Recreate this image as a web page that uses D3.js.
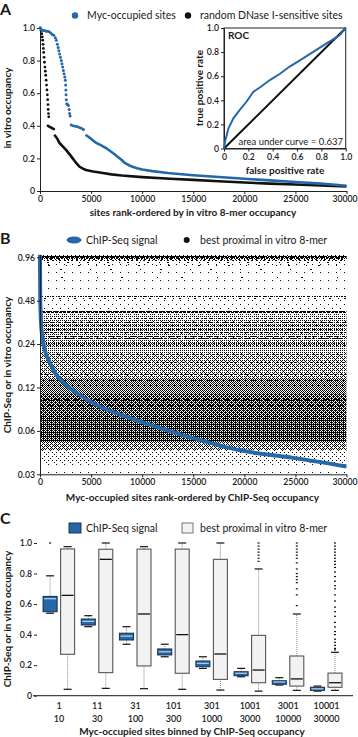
<!DOCTYPE html>
<html>
<head>
<meta charset="utf-8">
<script src="https://cdn.jsdelivr.net/npm/d3@7"></script>
<style>
body { margin: 0; background: #fff; }
svg text { font-family: Lato, "Open Sans", sans-serif; fill: #1a1a1a; }
.tick text { font-size: 8.7px; font-weight: 600; }
.tick line, .domain { stroke: #222; }
.title { font-size: 10px; font-weight: 700; }
.legend { font-size: 10.5px; }
.panel { font-size: 16px; font-weight: 700; }
</style>
</head>
<body>
<div id="chart"></div>
<script>
// ---------- panel A: in vitro occupancy curves ----------
const rankTicks = [0, 5000, 10000, 15000, 20000, 25000, 30000];
const fracTicks = [0, 0.2, 0.4, 0.6, 0.8, 1.0];

// sparse, steep part drawn as single points; tail drawn as a line
const mycDots = [[0,1.0],[150,0.99],[300,0.985],[450,0.985],[600,0.98],[750,0.98],[900,0.977],[1050,0.97],
  [1200,0.96],[1350,0.955],[1500,0.94],[1600,0.925],[1700,0.9],[1780,0.88],[1850,0.86],[1920,0.84],
  [2000,0.82],[2080,0.8],[2150,0.78],[2220,0.76],[2290,0.74],[2350,0.72],[2420,0.7],[2480,0.68],
  [2510,0.65],[2530,0.62],[2550,0.59],[2570,0.56],[2620,0.535],[2700,0.53],[2780,0.525],[2850,0.5],
  [2900,0.475],[2950,0.46],[3050,0.405],[3250,0.4],[3450,0.398],[3650,0.395],[3850,0.39],[4050,0.385],[4250,0.378]];
const mycTail = [[4450,0.345],[4800,0.33],[5200,0.31],[5500,0.295],[6000,0.28],[6500,0.262],[7100,0.235],
  [7600,0.21],[8000,0.19],[8300,0.172],[8800,0.155],[9500,0.14],[10000,0.132],[11000,0.122],[12500,0.11],
  [15000,0.097],[17500,0.086],[20000,0.075],[22500,0.065],[25000,0.055],[27500,0.045],[30000,0.032]];
const dnaseDots = [[30,1.0],[100,0.985],[170,0.965],[220,0.945],[260,0.925],[300,0.9],[330,0.875],[360,0.85],
  [400,0.82],[440,0.79],[480,0.76],[520,0.735],[560,0.71],[600,0.68],[640,0.65],[680,0.62],[720,0.59],
  [750,0.56],[780,0.53],[800,0.5],[830,0.475],[860,0.455],[780,0.4],[900,0.395],[1050,0.39],[1200,0.385],[1350,0.38]];
const dnaseTail = [[1400,0.345],[1700,0.32],[1900,0.295],[2200,0.275],[2550,0.252],[2900,0.225],[3200,0.2],
  [3500,0.175],[3850,0.15],[4200,0.137],[4500,0.129],[5200,0.12],[6150,0.11],[7000,0.102],[8000,0.095],
  [10000,0.085],[12750,0.075],[15000,0.068],[17500,0.06],[20000,0.052],[22500,0.045],[25000,0.04],
  [27500,0.034],[30000,0.028]];

const rocFpr = [0,0.008,0.036,0.077,0.13,0.186,0.24,0.30,0.38,0.46,0.54,0.62,0.73,0.84,0.95,1];
const rocTpr = [0,0.055,0.166,0.25,0.32,0.39,0.47,0.51,0.57,0.62,0.68,0.73,0.80,0.87,0.94,1];

// ---------- panel B: ChIP-Seq vs best proximal 8-mer ----------
const logTicks = [0.03, 0.06, 0.12, 0.24, 0.48, 0.96];
const chipRank = [0,5,15,30,60,120,200,425,900,1570,2550,3850,5500,7800,10000,14400,19600,24800,30000];
const chipSignal = [1.0,0.8,0.6,0.48,0.4,0.32,0.28,0.225,0.182,0.148,0.125,0.107,0.091,0.078,0.069,0.055,0.044,0.039,0.034];
// point cloud summarised as occupancy bands [low, high, fraction of pixels inked]
const vitroBands = [[0.97,1.0,0.45],[0.86,0.97,0.08],[0.56,0.86,0.02],[0.42,0.53,0.03],[0.345,0.385,0.2],
  [0.25,0.345,0.28],[0.2,0.25,0.27],[0.14,0.2,0.35],[0.11,0.14,0.5],[0.075,0.11,0.64],[0.05,0.075,0.7],
  [0.044,0.05,0.4],[0.036,0.044,0.1],[0.03,0.036,0.02]];
// discrete 8-mer occupancy levels that show as horizontal rows [value, fraction inked]
const vitroLines = [[0.985,0.9],[0.965,0.8],[0.95,0.6],[0.93,0.35],[0.915,0.25],[0.89,0.15],[0.85,0.1],
  [0.79,0.06],[0.7,0.05],[0.52,0.55],[0.5,0.2],[0.41,0.85],[0.4,0.75],[0.365,0.4],[0.34,0.55],[0.325,0.5],
  [0.305,0.55],[0.29,0.45],[0.275,0.55],[0.265,0.65],[0.245,0.6],[0.235,0.45],[0.205,0.45],[0.18,0.35],
  [0.15,0.45],[0.135,0.55],[0.125,0.5],[0.1,0.6],[0.09,0.6]];

// ---------- panel C: binned box plots ----------
const binLow = ["1","11","31","101","301","1001","3001","10001"];
const binHigh = ["10","30","100","300","1000","3000","10000","30000"];
// [whisker low, q1, median, q3, whisker high]
const chipBoxes = [[0.54,0.55,0.635,0.65,0.785],[0.452,0.463,0.487,0.502,0.524],[0.337,0.365,0.39,0.409,0.452],
  [0.255,0.267,0.288,0.306,0.337],[0.179,0.19,0.212,0.227,0.255],[0.124,0.131,0.147,0.157,0.179],
  [0.07,0.075,0.09,0.098,0.118],[0.03,0.035,0.045,0.055,0.063]];
const vitroBoxes = [[0.042,0.271,0.657,0.961,0.976],[0.048,0.151,0.893,0.959,1.0],[0.046,0.195,0.535,0.96,0.976],
  [0.042,0.147,0.4,0.96,1.0],[0.037,0.107,0.273,0.893,1.0],[0.03,0.085,0.168,0.395,0.83],
  [0.035,0.063,0.11,0.26,0.535],[0.035,0.055,0.085,0.148,0.284]];
const chipOutliers = [["1",[1.0]]];
const vitroOutliers = [
  ["1001",[1.0,0.98,0.96,0.94,0.92,0.9,0.88]],
  ["3001",[1.0,0.98,0.96,0.94,0.92,0.9,0.87,0.83,0.8,0.78,0.76,0.74,0.7,0.66,0.59]],
  ["10001",[1.0,0.98,0.96,0.94,0.92,0.9,0.88,0.86,0.84,0.81,0.78,0.75,0.72,0.7,0.66,0.62,0.58,0.55,
    0.52,0.48,0.45,0.42,0.4,0.37,0.35,0.33,0.31,0.3]]];

const blue = "#2468a8";
const fmtFrac = (d) => d === 0 ? "0" : d3.format(".1f")(d);

const svg = d3.select("#chart").append("svg").attr("width", 358).attr("height", 737);
const defs = svg.append("defs");

function styleAxis(g) {
  g.selectAll(".domain").attr("stroke-width", 1);
  g.selectAll(".tick line").attr("stroke-width", 1);
  // keep the last rank label inside the page
  g.selectAll(".tick text").filter((d) => d === 30000).attr("dx", "-2");
}

// ================= A =================
const xA = d3.scaleLinear().domain([0, 30000]).range([40, 346.5]);
const yA = d3.scaleLinear().domain([0, 1]).range([191, 28]);

svg.append("text").attr("class", "panel").attr("x", 0).attr("y", 15).text("A");

svg.append("g").attr("transform", "translate(0,191)")
  .call(d3.axisBottom(xA).tickValues(rankTicks).tickSize(3).tickSizeOuter(0).tickPadding(2).tickFormat(d3.format("d")))
  .call(styleAxis);
svg.append("g").attr("transform", "translate(40,0)")
  .call(d3.axisLeft(yA).tickValues(fracTicks).tickSize(3).tickSizeOuter(0).tickPadding(2).tickFormat(fmtFrac))
  .call(styleAxis);

const lineA = d3.line().x((d) => xA(d[0])).y((d) => yA(d[1]));
svg.append("path").attr("d", lineA(dnaseTail)).attr("fill", "none").attr("stroke", "#111").attr("stroke-width", 2.6);
svg.append("g").selectAll("circle").data(dnaseDots).join("circle")
  .attr("cx", (d) => xA(d[0])).attr("cy", (d) => yA(d[1])).attr("r", 1.4).attr("fill", "#111");
svg.append("path").attr("d", lineA(mycTail)).attr("fill", "none").attr("stroke", blue).attr("stroke-width", 2.6);
svg.append("g").selectAll("circle").data(mycDots).join("circle")
  .attr("cx", (d) => xA(d[0])).attr("cy", (d) => yA(d[1])).attr("r", 1.5).attr("fill", blue);

svg.append("text").attr("class", "title").attr("x", 193).attr("y", 216).attr("text-anchor", "middle")
  .text("sites rank-ordered by in vitro 8-mer occupancy");
svg.append("text").attr("class", "title").attr("transform", "translate(10.5,108) rotate(-90)")
  .attr("text-anchor", "middle").text("in vitro occupancy");

// legend A
svg.append("circle").attr("cx", 75).attr("cy", 15.5).attr("r", 3.2).attr("fill", blue);
svg.append("text").attr("class", "legend").attr("x", 87).attr("y", 19).text("Myc-occupied sites");
svg.append("circle").attr("cx", 188).attr("cy", 15.5).attr("r", 3.2).attr("fill", "#111");
svg.append("text").attr("class", "legend").attr("x", 200).attr("y", 19).text("random DNase I-sensitive sites");

// ROC inset
const xR = d3.scaleLinear().domain([0, 1]).range([224, 345.7]);
const yR = d3.scaleLinear().domain([0, 1]).range([148.5, 28]);
svg.append("rect").attr("x", xR(0)).attr("y", yR(1)).attr("width", xR(1) - xR(0)).attr("height", yR(0) - yR(1))
  .attr("fill", "#fff").attr("stroke", "#222").attr("stroke-width", 1);
svg.append("g").attr("transform", `translate(0,${yR(0)})`)
  .call(d3.axisBottom(xR).tickValues(fracTicks).tickSize(3).tickSizeOuter(0).tickPadding(2).tickFormat(fmtFrac))
  .call(styleAxis);
svg.append("g").attr("transform", `translate(${xR(0)},0)`)
  .call(d3.axisLeft(yR).tickValues(fracTicks).tickSize(3).tickSizeOuter(0).tickPadding(2).tickFormat(fmtFrac))
  .call(styleAxis);
svg.append("line").attr("x1", xR(0)).attr("y1", yR(0)).attr("x2", xR(1)).attr("y2", yR(1))
  .attr("stroke", "#111").attr("stroke-width", 2);
const rocLine = d3.line().x((d, i) => xR(rocFpr[i])).y((d) => yR(d));
svg.append("path").attr("d", rocLine(rocTpr)).attr("fill", "none").attr("stroke", blue).attr("stroke-width", 2);
svg.append("text").attr("class", "title").attr("x", 228).attr("y", 39).text("ROC");
svg.append("text").attr("x", 343).attr("y", 145).attr("text-anchor", "end").attr("font-size", 9.5)
  .text("area under curve = 0.637");
svg.append("text").attr("class", "title").attr("x", 285).attr("y", 174).attr("text-anchor", "middle")
  .text("false positive rate");
svg.append("text").attr("class", "title").attr("transform", "translate(202.5,88) rotate(-90)")
  .attr("text-anchor", "middle").text("true positive rate");

// ================= B =================
const xB = d3.scaleLinear().domain([0, 30000]).range([40, 346.5]);
const yB = d3.scaleLog().domain([0.03, 1]).range([474.3, 254.7]);

svg.append("text").attr("class", "panel").attr("x", 0).attr("y", 244).text("B");

// ordered-dither tiles for the point cloud texture
const bayer = [
  [0, 32, 8, 40, 2, 34, 10, 42], [48, 16, 56, 24, 50, 18, 58, 26],
  [12, 44, 4, 36, 14, 46, 6, 38], [60, 28, 52, 20, 62, 30, 54, 22],
  [3, 35, 11, 43, 1, 33, 9, 41], [51, 19, 59, 27, 49, 17, 57, 25],
  [15, 47, 7, 39, 13, 45, 5, 37], [63, 31, 55, 23, 61, 29, 53, 21]];
function stipple(id, density) {
  const p = defs.append("pattern").attr("id", id).attr("patternUnits", "userSpaceOnUse")
    .attr("width", 8).attr("height", 8);
  bayer.forEach((row, r) => row.forEach((v, c) => {
    if ((v + 0.5) / 64 < density) {
      p.append("rect").attr("x", c).attr("y", r).attr("width", 1).attr("height", 1).attr("fill", "#000");
    }
  }));
}
defs.append("clipPath").attr("id", "clipB").append("rect")
  .attr("x", xB(0)).attr("y", yB(1)).attr("width", xB(30000) - xB(0)).attr("height", yB(0.03) - yB(1));

const cloud = svg.append("g").attr("clip-path", "url(#clipB)").attr("shape-rendering", "crispEdges");
vitroBands.forEach((b, i) => {
  stipple("stip" + i, b[2]);
  cloud.append("rect").attr("x", xB(0)).attr("width", xB(30000) - xB(0))
    .attr("y", yB(b[1])).attr("height", yB(b[0]) - yB(b[1])).attr("fill", `url(#stip${i})`);
});
cloud.selectAll("line.lvl").data(vitroLines).join("line").attr("class", "lvl")
  .attr("x1", xB(0)).attr("x2", xB(30000))
  .attr("y1", (d) => Math.round(yB(d[0])) + 0.5).attr("y2", (d) => Math.round(yB(d[0])) + 0.5)
  .attr("stroke", "#000").attr("stroke-width", 1)
  .attr("stroke-dasharray", (d) => {
    const gap = 3 / d[1] - 3;
    return `1 ${(gap * 0.4).toFixed(2)} 2 ${(gap * 0.6).toFixed(2)}`;
  })
  .attr("stroke-dashoffset", (d, i) => (i * 3) % 7);

const lineB = d3.line().x((d, i) => xB(chipRank[i])).y((d) => yB(d)).curve(d3.curveMonotoneX);
svg.append("path").attr("d", lineB(chipSignal)).attr("fill", "none").attr("stroke", blue).attr("stroke-width", 4);

svg.append("g").attr("transform", "translate(0,474.3)")
  .call(d3.axisBottom(xB).tickValues(rankTicks).tickSize(3).tickSizeOuter(0).tickPadding(2).tickFormat(d3.format("d")))
  .call(styleAxis);
svg.append("g").attr("transform", "translate(40,0)")
  .call(d3.axisLeft(yB).tickValues(logTicks).tickSize(3).tickSizeOuter(0).tickPadding(2).tickFormat(d3.format(".2f")))
  .call(styleAxis);

svg.append("text").attr("class", "title").attr("x", 192.5).attr("y", 501).attr("text-anchor", "middle")
  .text("Myc-occupied sites rank-ordered by ChIP-Seq occupancy");
svg.append("text").attr("class", "title").attr("transform", "translate(10.5,365) rotate(-90)")
  .attr("text-anchor", "middle").text("ChIP-Seq or in vitro occupancy");

svg.append("ellipse").attr("cx", 74).attr("cy", 240).attr("rx", 7.5).attr("ry", 3.5).attr("fill", blue);
svg.append("text").attr("class", "legend").attr("x", 86).attr("y", 244).text("ChIP-Seq signal");
svg.append("circle").attr("cx", 186.7).attr("cy", 240).attr("r", 3).attr("fill", "#111");
svg.append("text").attr("class", "legend").attr("x", 200).attr("y", 244).text("best proximal in vitro 8-mer");

// ================= C =================
const xC = d3.scaleBand().domain(binLow).range([40, 345.6]);
const yC = d3.scaleLinear().domain([0, 1]).range([695.7, 543]);
const boxW = 14;

svg.append("text").attr("class", "panel").attr("x", 0).attr("y", 524).text("C");

svg.append("g").attr("transform", "translate(37,0)")
  .call(d3.axisLeft(yC).tickValues(fracTicks).tickSize(3).tickPadding(2).tickFormat(fmtFrac))
  .call((g) => g.select(".domain").remove());
svg.append("line").attr("x1", 33).attr("x2", 353).attr("y1", yC(0)).attr("y2", yC(0))
  .attr("stroke", "#444").attr("stroke-width", 1.2);

function drawBox(g, cx, s, filled) {
  const [lo, q1, med, q3, hi] = s;
  const stem = g.append("g").attr("stroke", "#888").attr("stroke-width", 1).attr("stroke-dasharray", "1 1");
  stem.append("line").attr("x1", cx).attr("x2", cx).attr("y1", yC(lo)).attr("y2", yC(q1));
  stem.append("line").attr("x1", cx).attr("x2", cx).attr("y1", yC(q3)).attr("y2", yC(hi));
  [lo, hi].forEach((v) => g.append("line").attr("x1", cx - 4).attr("x2", cx + 4)
    .attr("y1", yC(v)).attr("y2", yC(v)).attr("stroke", "#111").attr("stroke-width", 1.2));
  g.append("rect").attr("x", cx - boxW / 2).attr("width", boxW)
    .attr("y", yC(q3)).attr("height", Math.max(1, yC(q1) - yC(q3)))
    .attr("fill", filled ? blue : "#f2f2f2").attr("stroke", filled ? "#1d3553" : "#555").attr("stroke-width", 1.1);
  g.append("line").attr("x1", cx - boxW / 2 + 1).attr("x2", cx + boxW / 2 - 1)
    .attr("y1", yC(med)).attr("y2", yC(med))
    .attr("stroke", filled ? "#a8cbe8" : "#111").attr("stroke-width", 1.3);
}

const gC = svg.append("g");
binLow.forEach((bin, i) => {
  const c = xC(bin) + xC.bandwidth() / 2;
  drawBox(gC, c - 9, chipBoxes[i], true);
  drawBox(gC, c + 8.5, vitroBoxes[i], false);
});

function drawOutliers(list, offset) {
  list.forEach(([bin, vals]) => {
    const cx = xC(bin) + xC.bandwidth() / 2 + offset;
    gC.selectAll(null).data(vals).join("rect")
      .attr("x", cx - 1).attr("width", 2).attr("y", (v) => yC(v) - 0.6).attr("height", 1.2).attr("fill", "#111");
  });
}
drawOutliers(chipOutliers, -9);
drawOutliers(vitroOutliers, 8.5);

binLow.forEach((bin, i) => {
  const c = xC(bin) + xC.bandwidth() / 2;
  svg.append("text").attr("x", c).attr("y", 709).attr("text-anchor", "middle")
    .attr("font-size", 9).attr("font-weight", 600).text(bin);
  svg.append("text").attr("x", c).attr("y", 721.5).attr("text-anchor", "middle")
    .attr("font-size", 9).attr("font-weight", 600).text(binHigh[i]);
});
svg.append("text").attr("class", "title").attr("x", 192).attr("y", 735).attr("text-anchor", "middle")
  .text("Myc-occupied sites binned by ChIP-Seq occupancy");
svg.append("text").attr("class", "title").attr("transform", "translate(10.5,619) rotate(-90)")
  .attr("text-anchor", "middle").text("ChIP-Seq or in vitro occupancy");

// legend C
svg.append("rect").attr("x", 69).attr("y", 523).attr("width", 12).attr("height", 10)
  .attr("fill", blue).attr("stroke", "#1d3553");
svg.append("text").attr("class", "legend").attr("x", 86).attr("y", 532).text("ChIP-Seq signal");
svg.append("rect").attr("x", 182).attr("y", 523).attr("width", 11).attr("height", 10)
  .attr("fill", "#f2f2f2").attr("stroke", "#777");
svg.append("text").attr("class", "legend").attr("x", 200).attr("y", 532).text("best proximal in vitro 8-mer");
</script>
</body>
</html>
